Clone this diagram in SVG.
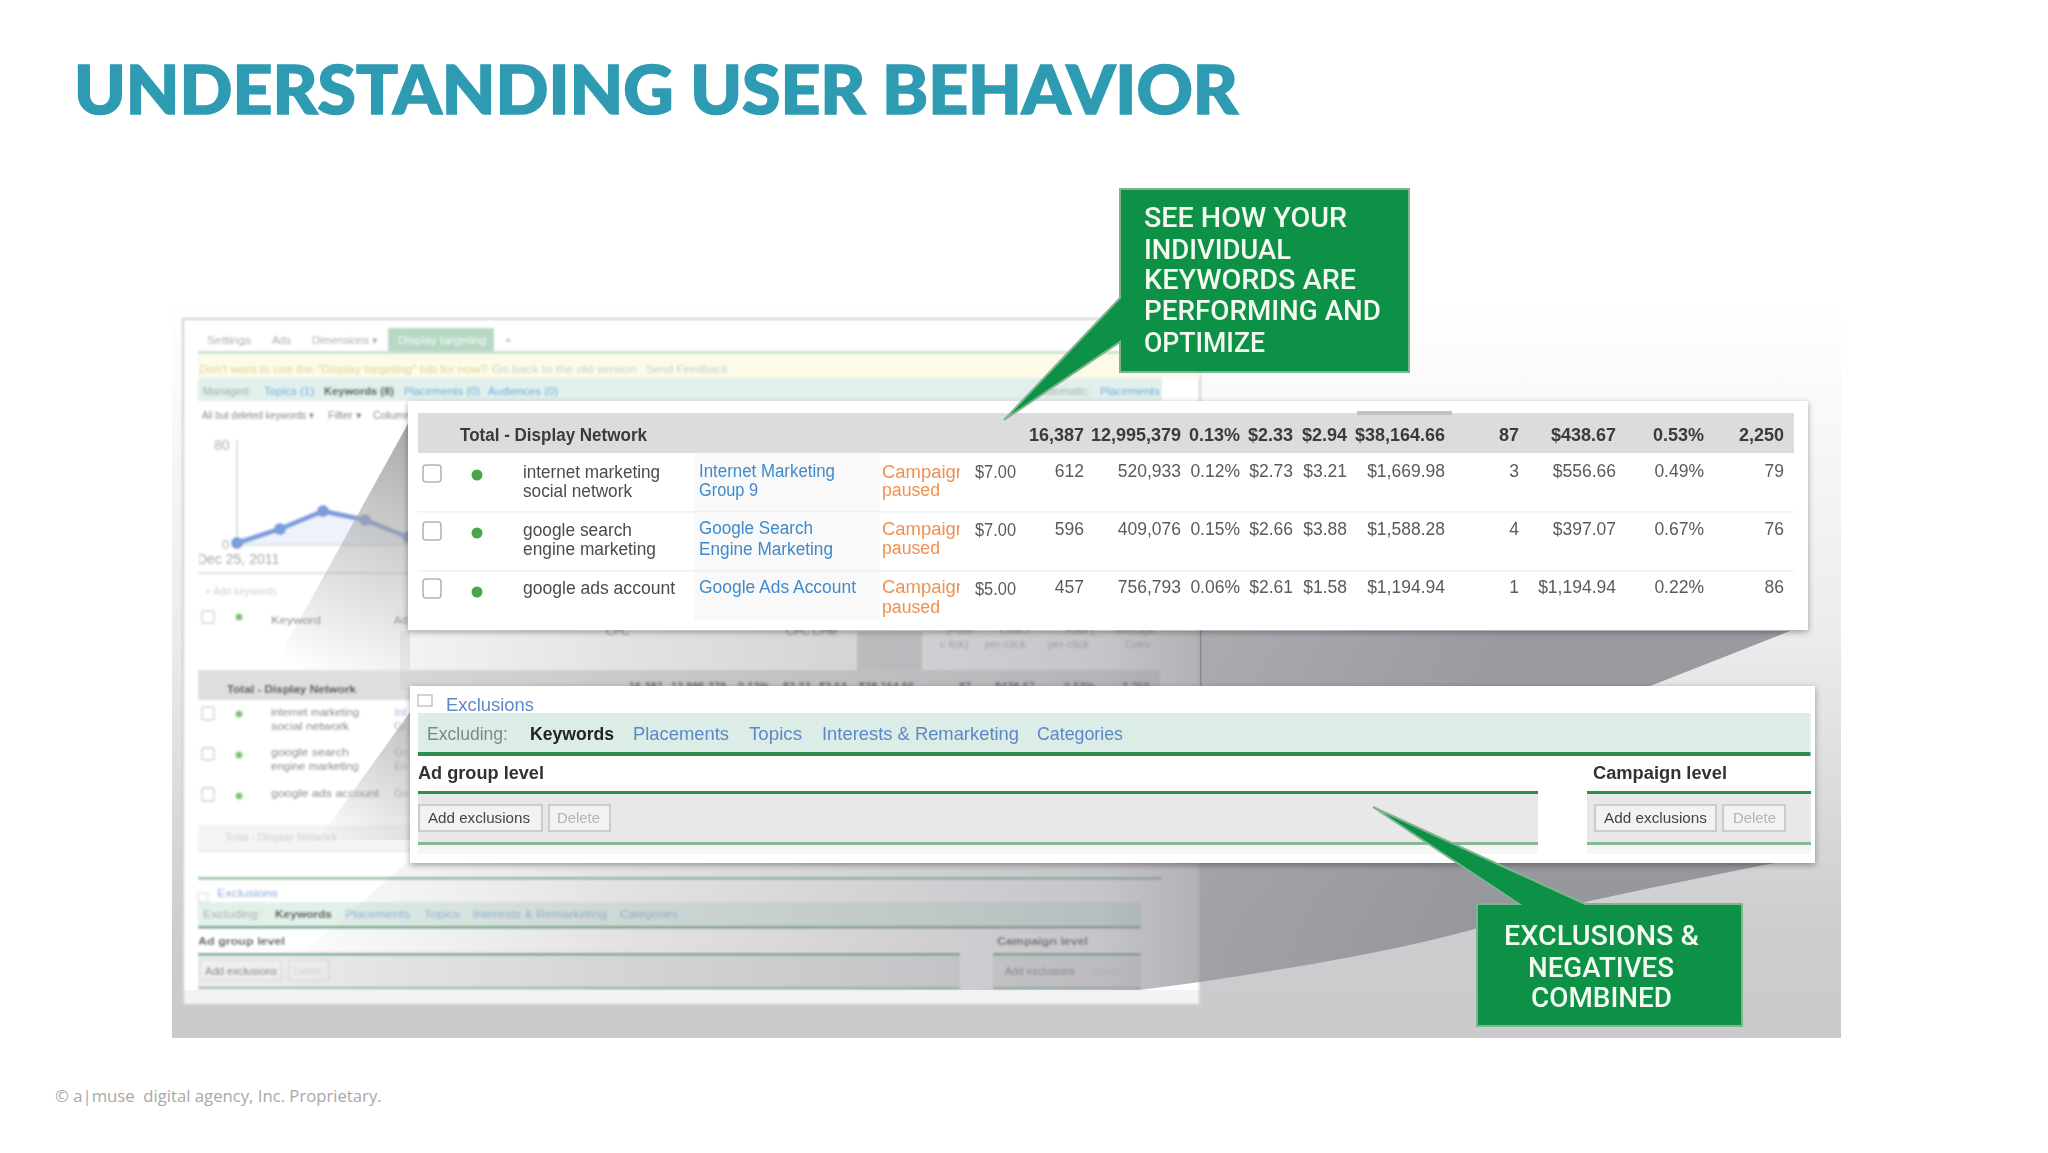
<svg xmlns="http://www.w3.org/2000/svg" width="2048" height="1153" viewBox="0 0 2048 1153">
<style>
text{font-family:"Liberation Sans",Arial,sans-serif}
.title{font-family:Lato,"Liberation Sans",sans-serif;font-weight:900;font-size:66px;fill:#2e9bb3;stroke:#2e9bb3;stroke-width:1.6px}
.foot{font-family:"Open Sans","Noto Sans",sans-serif;font-size:16.7px;fill:#a8a8a8;white-space:pre}
.c{font-family:Roboto,"Liberation Sans",sans-serif;font-weight:500;font-size:27px;fill:#f4faf0}
.hb{font-weight:700;font-size:18px;fill:#3a3a3a}
.n{font-size:17.5px;fill:#5a5a5a}
.k{font-size:18px;fill:#4c4c4c}
.b{font-size:18px;fill:#3f8acb}
.o{font-size:18px;fill:#f09050}
.x{font-size:19px;fill:#5d88c8}
.xg{font-size:19px;fill:#7d8a84}
.xk{font-size:19px;font-weight:700;fill:#222}
.xh{font-size:18px;font-weight:700;fill:#333}
.bt{font-size:15px;fill:#444}
.bd{font-size:15px;fill:#b4b4b4}
.f{font-size:11px;fill:#a6a6a6}
.fb{font-size:11px;fill:#8fb4dc}
.fk{font-size:11px;fill:#444;font-weight:700}
.fl{font-size:11px;fill:#777}
.fc{font-size:11px;fill:#aaa}
.gl{fill:#2f8d50}
.gf{fill:#5fa377}
.gm{fill:#86b993}
.cb{fill:#fff;stroke:#b4b4b4;stroke-width:1.6}
.cbf{fill:#fff;stroke:#cfcfcf;stroke-width:1.4}
.dot{fill:#4aa548}
.fdot{fill:#7cc070}
.btn{fill:#f2f2f2;stroke:#c4c4c4;stroke-width:1.6}
.btf{fill:#efefef;stroke:#d8d8d8;stroke-width:1.2}
.cal{fill:#0a9147;stroke:#7fb48e;stroke-width:2}
</style>
<defs>
<linearGradient id="bg" x1="0" y1="300" x2="0" y2="1040" gradientUnits="userSpaceOnUse"><stop offset="0" stop-color="#fff"/><stop offset=".45" stop-color="#ececec"/><stop offset=".85" stop-color="#cdcdcf"/><stop offset="1" stop-color="#cacacc"/></linearGradient>
<linearGradient id="beam" x1="250" y1="0" x2="1500" y2="0" gradientUnits="userSpaceOnUse"><stop offset="0" stop-color="#8c8c94" stop-opacity="0"/><stop offset=".3" stop-color="#8c8c94" stop-opacity=".25"/><stop offset=".68" stop-color="#8c8c94" stop-opacity=".5"/><stop offset=".76" stop-color="#8c8c94" stop-opacity=".68"/><stop offset="1" stop-color="#8c8c94" stop-opacity=".85"/></linearGradient>
<linearGradient id="w1" x1="410" y1="420" x2="300" y2="670" gradientUnits="userSpaceOnUse"><stop offset="0" stop-color="#a4a4a4" stop-opacity=".95"/><stop offset="1" stop-color="#a4a4a4" stop-opacity="0"/></linearGradient>
<linearGradient id="w2" x1="410" y1="712" x2="320" y2="840" gradientUnits="userSpaceOnUse"><stop offset="0" stop-color="#a4a4a4" stop-opacity=".7"/><stop offset="1" stop-color="#a4a4a4" stop-opacity="0"/></linearGradient>
<filter id="sh" x="-3%" y="-10%" width="106%" height="120%"><feDropShadow dx="0" dy="2" stdDeviation="3" flood-color="#000" flood-opacity=".35"/></filter>
<filter id="bl" x="-2%" y="-2%" width="104%" height="104%"><feGaussianBlur stdDeviation=".7"/></filter>
<filter id="bl2" x="-2%" y="-2%" width="104%" height="104%"><feGaussianBlur stdDeviation="1"/></filter>
<clipPath id="cp"><rect x="860" y="400" width="100" height="230"/></clipPath>
<clipPath id="fr"><rect x="199" y="320" width="1000" height="680"/></clipPath>
</defs>
<rect width="2048" height="1153" fill="#fff"/>

<g id="title"><text class="title" x="74" y="114" textLength="1164" lengthAdjust="spacingAndGlyphs">UNDERSTANDING USER BEHAVIOR</text></g>
<g id="footer"><text class="foot" x="55" y="1102">© a|muse  digital agency, Inc. Proprietary.</text></g>

<g id="backdrop"><rect x="172" y="300" width="1669" height="738" fill="url(#bg)"/></g>

<g id="screenshot" filter="url(#bl2)">
<rect x="183" y="319" width="1017" height="686" fill="#fff" stroke="#cfcfcf" stroke-width="2"/>
<rect x="388" y="328" width="106" height="23" fill="#b6d8c4"/>
<rect x="198" y="351" width="1002" height="3" fill="#c9e2d1"/>
<rect x="198" y="354" width="1002" height="24" fill="#fdfbe8"/>
<rect x="198" y="378" width="964" height="23" fill="#e1f0ed"/>
<rect x="198" y="670" width="962" height="30" fill="#dedede"/>
<rect x="198" y="825" width="962" height="25" fill="#f4f4f4"/>
<rect x="198" y="850" width="962" height="1.5" fill="#e4e4e4"/>
<path d="M237 543L280 529L323 511L365 520L408 537V545H237Z" fill="#eef3fb"/>
<path d="M237 440V545H410M198 573H410" fill="none" stroke="#d8e4dc" stroke-width="2"/>
<path d="M237 543L280 529L323 511L365 520L408 537" fill="none" stroke="#7a9ddc" stroke-width="5"/>
<g fill="#7a9ddc"><circle cx="237" cy="543" r="6"/><circle cx="280" cy="529" r="6"/><circle cx="323" cy="511" r="6"/><circle cx="365" cy="520" r="6"/><circle cx="408" cy="537" r="6"/></g>
<rect x="857" y="632" width="65" height="38" fill="#d8d8d8"/>
<g class="cbf"><rect x="202" y="611" width="12" height="12" rx="2"/><rect x="202" y="707" width="12" height="13" rx="2"/><rect x="202" y="748" width="12" height="12" rx="2"/><rect x="202" y="788" width="12" height="13" rx="2"/></g>
<g class="fdot"><circle cx="239" cy="617" r="3.5"/><circle cx="239" cy="714" r="3.5"/><circle cx="239" cy="755" r="3.5"/><circle cx="239" cy="796" r="3.5"/></g>
<rect x="198" y="877" width="964" height="2.5" class="gm"/>
<rect x="198" y="902" width="943" height="25" fill="#e2f0ea"/>
<rect x="198" y="926" width="943" height="2.5" class="gf"/>
<rect x="198" y="953" width="762" height="2.5" class="gf"/>
<rect x="993" y="953" width="148" height="2.5" class="gf"/>
<rect x="198" y="956" width="762" height="32" fill="#ececec"/>
<rect x="993" y="956" width="148" height="32" fill="#ececec"/>
<rect x="198" y="987" width="762" height="2" class="gm"/>
<rect x="993" y="987" width="148" height="2" class="gm"/>
<rect x="200" y="960" width="81" height="20" class="btf"/><rect x="289" y="960" width="40" height="20" class="btf"/>
<rect x="198" y="893" width="10" height="9" fill="none" stroke="#d8d8d8"/>
<g clip-path="url(#fr)">
<text class="f" x="207" y="344" textLength="44" lengthAdjust="spacingAndGlyphs">Settings</text>
<text class="f" x="272" y="344">Ads</text>
<text class="f" x="312" y="344" textLength="66" lengthAdjust="spacingAndGlyphs">Dimensions ▾</text>
<text class="f" x="398" y="344" style="fill:#f4fbf6" textLength="88" lengthAdjust="spacingAndGlyphs">Display targeting</text>
<text class="f" x="505" y="344">+</text>
<text class="f" x="199" y="373" style="fill:#d8d498" textLength="288" lengthAdjust="spacingAndGlyphs">Don't want to use the "Display targeting" tab for now?</text>
<text class="f" x="492" y="373" style="fill:#bcd0d8" textLength="145" lengthAdjust="spacingAndGlyphs">Go back to the old version</text>
<text class="f" x="646" y="373" style="fill:#bcd0d8" textLength="82" lengthAdjust="spacingAndGlyphs">Send Feedback</text>
<text class="f" x="203" y="395" textLength="48" lengthAdjust="spacingAndGlyphs">Managed:</text>
<text class="fb" x="264" y="395" style="fill:#5ea8dc" textLength="50" lengthAdjust="spacingAndGlyphs">Topics (1)</text>
<text class="fk" x="324" y="395" textLength="70" lengthAdjust="spacingAndGlyphs">Keywords (8)</text>
<text class="fb" x="404" y="395" style="fill:#5ea8dc" textLength="76" lengthAdjust="spacingAndGlyphs">Placements (0)</text>
<text class="fb" x="488" y="395" style="fill:#5ea8dc" textLength="70" lengthAdjust="spacingAndGlyphs">Audiences (0)</text>
<text class="f" x="1090" y="395" text-anchor="end">Automatic:</text>
<text class="fb" x="1100" y="395" style="fill:#5ea8dc" textLength="60" lengthAdjust="spacingAndGlyphs">Placements</text>
<text class="fl" x="202" y="419" textLength="112" lengthAdjust="spacingAndGlyphs">All but deleted keywords ▾</text>
<text class="fl" x="328" y="419">Filter ▾</text>
<text class="fl" x="373" y="419">Columns</text>
<text x="214" y="450" font-size="14" fill="#aaa">80</text>
<text x="222" y="549" font-size="13" fill="#aaa">0</text>
<text x="197" y="564" font-size="14" fill="#999">Dec 25, 2011</text>
<text class="f" x="205" y="595" style="fill:#cfcfcf" textLength="72" lengthAdjust="spacingAndGlyphs">+ Add keywords</text>
<text class="fl" x="271" y="624" textLength="50" lengthAdjust="spacingAndGlyphs">Keyword</text>
<text class="fl" x="394" y="624">Ad</text>
<text class="fl" x="606" y="635">CPC</text>
<text class="fl" x="786" y="635">CPC  CPM</text>
<text class="f" x="946" y="634">(Post-</text><text class="f" x="1000" y="634">Cost /</text><text class="f" x="1065" y="634">Rate (</text><text class="f" x="1115" y="634">average</text>
<text class="f" x="940" y="648">c lick)</text><text class="f" x="985" y="648">per-click</text><text class="f" x="1048" y="648">per-click</text><text class="f" x="1125" y="648">Conv</text>
<text class="fk" x="227" y="693" textLength="129" lengthAdjust="spacingAndGlyphs">Total - Display Network</text>
<text class="fk" x="629" y="690">16,387</text><text class="fk" x="671" y="690">12,995,379</text><text class="fk" x="738" y="690">0.13%</text><text class="fk" x="783" y="690">$2.33</text><text class="fk" x="819" y="690">$3.64</text><text class="fk" x="859" y="690">$38,164.66</text><text class="fk" x="959" y="690">87</text><text class="fk" x="995" y="690">$438.67</text><text class="fk" x="1064" y="690">0.53%</text><text class="fk" x="1122" y="690">2,250</text>
<text class="fl" x="271" y="716" textLength="88" lengthAdjust="spacingAndGlyphs">internet marketing</text>
<text class="fl" x="271" y="730" textLength="78" lengthAdjust="spacingAndGlyphs">social network</text>
<text class="fl" x="271" y="756" textLength="78" lengthAdjust="spacingAndGlyphs">google search</text>
<text class="fl" x="271" y="770" textLength="88" lengthAdjust="spacingAndGlyphs">engine marketing</text>
<text class="fl" x="271" y="797" textLength="108" lengthAdjust="spacingAndGlyphs">google ads account</text>
<text class="fb" x="394" y="716">Int</text><text class="fb" x="394" y="730">Gr</text><text class="fb" x="394" y="756">Go</text><text class="fb" x="394" y="770">En</text><text class="fb" x="394" y="797">Go</text>
<text class="f" x="225" y="841" style="fill:#cfcfcf" textLength="112" lengthAdjust="spacingAndGlyphs">Total - Display Network</text>
<text class="fb" x="217" y="897" style="fill:#7e9fd8" textLength="61" lengthAdjust="spacingAndGlyphs">Exclusions</text>
<text class="fc" x="203" y="918" textLength="58" lengthAdjust="spacingAndGlyphs">Excluding:</text>
<text class="fk" x="275" y="918" textLength="57" lengthAdjust="spacingAndGlyphs">Keywords</text>
<text class="fb" x="345" y="918" textLength="65" lengthAdjust="spacingAndGlyphs">Placements</text>
<text class="fb" x="424" y="918" textLength="36" lengthAdjust="spacingAndGlyphs">Topics</text>
<text class="fb" x="473" y="918" textLength="134" lengthAdjust="spacingAndGlyphs">Interests &amp; Remarketing</text>
<text class="fb" x="620" y="918" textLength="58" lengthAdjust="spacingAndGlyphs">Categories</text>
<text class="fk" x="198" y="945" textLength="87" lengthAdjust="spacingAndGlyphs">Ad group level</text>
<text class="fk" x="997" y="945" textLength="91" lengthAdjust="spacingAndGlyphs">Campaign level</text>
<text class="fl" x="205" y="975" textLength="72" lengthAdjust="spacingAndGlyphs">Add exclusions</text>
<text class="f" x="294" y="975" style="fill:#d4d4d4" textLength="28" lengthAdjust="spacingAndGlyphs">Delete</text>
<text class="fl" x="1005" y="975" textLength="70" lengthAdjust="spacingAndGlyphs">Add exclusions</text>
<text class="f" x="1092" y="975" style="fill:#d4d4d4" textLength="30" lengthAdjust="spacingAndGlyphs">Delete</text>
</g>
</g>

<g id="beams">
<path d="M410 420L272 670H410Z" fill="url(#w1)"/>
<path d="M410 712L318 840H410Z" fill="url(#w2)"/>
<path d="M400 631H1790L1640 690H400Z" fill="url(#beam)"/>
<path d="M410 860H1790L1775 863C1680 882 1585 900 1482 927C1380 955 1290 968 1200 982L1140 990H260L410 860Z" fill="url(#beam)"/>
<rect x="183" y="990" width="1017" height="15" fill="#8c8c94" opacity=".1"/>
<rect x="1200" y="631" width="1.4" height="56" fill="#7e7e84" opacity=".7"/>
</g>

<g id="table-window">
<rect x="408" y="401" width="1400" height="229" fill="#fff" filter="url(#sh)"/>
<g filter="url(#bl)">
<rect x="418" y="413" width="1376" height="40" fill="#dcdcde"/>
<rect x="1357" y="411" width="95" height="4" fill="#c2c2c4"/>
<rect x="694" y="453" width="186" height="167" fill="#f9f9fa"/>
<g fill="#f0f0f0"><rect x="418" y="511" width="1376" height="1.5"/><rect x="418" y="570" width="1376" height="1.5"/></g>
<g class="cb"><rect x="423" y="465" width="18" height="17" rx="3"/><rect x="423" y="522" width="18" height="18" rx="3"/><rect x="423" y="579" width="18" height="19" rx="3"/></g>
<g class="dot"><circle cx="477" cy="475" r="5.5"/><circle cx="477" cy="533" r="5.5"/><circle cx="477" cy="592" r="5.5"/></g>
<text class="hb" x="460" y="441" textLength="187" lengthAdjust="spacingAndGlyphs">Total - Display Network</text>
<text class="k" x="523" y="478" textLength="137" lengthAdjust="spacingAndGlyphs">internet marketing</text>
<text class="k" x="523" y="497" textLength="109" lengthAdjust="spacingAndGlyphs">social network</text>
<text class="k" x="523" y="536" textLength="109" lengthAdjust="spacingAndGlyphs">google search</text>
<text class="k" x="523" y="555" textLength="133" lengthAdjust="spacingAndGlyphs">engine marketing</text>
<text class="k" x="523" y="594" textLength="152" lengthAdjust="spacingAndGlyphs">google ads account</text>
<text class="b" x="699" y="477" textLength="136" lengthAdjust="spacingAndGlyphs">Internet Marketing</text>
<text class="b" x="699" y="496" textLength="59" lengthAdjust="spacingAndGlyphs">Group 9</text>
<text class="b" x="699" y="534" textLength="114" lengthAdjust="spacingAndGlyphs">Google Search</text>
<text class="b" x="699" y="555" textLength="134" lengthAdjust="spacingAndGlyphs">Engine Marketing</text>
<text class="b" x="699" y="593" textLength="157" lengthAdjust="spacingAndGlyphs">Google Ads Account</text>
<g clip-path="url(#cp)">
<text class="o" x="882" y="478" textLength="84" lengthAdjust="spacingAndGlyphs">Campaign</text><text class="o" x="882" y="496" textLength="58" lengthAdjust="spacingAndGlyphs">paused</text>
<text class="o" x="882" y="535" textLength="84" lengthAdjust="spacingAndGlyphs">Campaign</text><text class="o" x="882" y="554" textLength="58" lengthAdjust="spacingAndGlyphs">paused</text>
<text class="o" x="882" y="593" textLength="84" lengthAdjust="spacingAndGlyphs">Campaign</text><text class="o" x="882" y="613" textLength="58" lengthAdjust="spacingAndGlyphs">paused</text>
</g>
<g class="n"><text x="975" y="478" textLength="41" lengthAdjust="spacingAndGlyphs">$7.00</text><text x="975" y="536" textLength="41" lengthAdjust="spacingAndGlyphs">$7.00</text><text x="975" y="595" textLength="41" lengthAdjust="spacingAndGlyphs">$5.00</text></g>
<g class="hb" text-anchor="end">
<text x="1084" y="441">16,387</text><text x="1181" y="441">12,995,379</text><text x="1240" y="441">0.13%</text><text x="1293" y="441">$2.33</text><text x="1347" y="441">$2.94</text><text x="1445" y="441">$38,164.66</text><text x="1519" y="441">87</text><text x="1616" y="441">$438.67</text><text x="1704" y="441">0.53%</text><text x="1784" y="441">2,250</text>
</g>
<g class="n" text-anchor="end">
<text x="1084" y="477">612</text><text x="1181" y="477">520,933</text><text x="1240" y="477">0.12%</text><text x="1293" y="477">$2.73</text><text x="1347" y="477">$3.21</text><text x="1445" y="477">$1,669.98</text><text x="1519" y="477">3</text><text x="1616" y="477">$556.66</text><text x="1704" y="477">0.49%</text><text x="1784" y="477">79</text>
<text x="1084" y="535">596</text><text x="1181" y="535">409,076</text><text x="1240" y="535">0.15%</text><text x="1293" y="535">$2.66</text><text x="1347" y="535">$3.88</text><text x="1445" y="535">$1,588.28</text><text x="1519" y="535">4</text><text x="1616" y="535">$397.07</text><text x="1704" y="535">0.67%</text><text x="1784" y="535">76</text>
<text x="1084" y="593">457</text><text x="1181" y="593">756,793</text><text x="1240" y="593">0.06%</text><text x="1293" y="593">$2.61</text><text x="1347" y="593">$1.58</text><text x="1445" y="593">$1,194.94</text><text x="1519" y="593">1</text><text x="1616" y="593">$1,194.94</text><text x="1704" y="593">0.22%</text><text x="1784" y="593">86</text>
</g>
</g>
</g>

<g id="exclusions-window">
<rect x="410" y="686" width="1405" height="177" fill="#fff" filter="url(#sh)"/>
<g filter="url(#bl)">
<rect x="418" y="713" width="1392.500" height="40" fill="#dcece6"/>
<rect x="418" y="752" width="1392.500" height="4" class="gl"/>
<rect x="418" y="794" width="1120" height="50" fill="#e8e8e8"/>
<rect x="1587" y="794" width="224" height="50" fill="#e8e8e8"/>
<rect x="418" y="845" width="1120" height="9" fill="#f6f6f4"/>
<rect x="1587" y="845" width="224" height="9" fill="#f6f6f4"/>
<rect x="418" y="791" width="1120" height="3" class="gl"/>
<rect x="1587" y="791" width="224" height="3" class="gl"/>
<rect x="418" y="842" width="1120" height="3" class="gm"/>
<rect x="1587" y="842" width="224" height="3" class="gm"/>
<rect x="418" y="695" width="14" height="11" fill="none" stroke="#c4c4c4" stroke-width="1.5"/>
<rect x="419" y="805" width="123" height="26" class="btn"/><rect x="549" y="805" width="61" height="26" class="btn"/>
<rect x="1595" y="805" width="121" height="26" class="btn"/><rect x="1723" y="805" width="62" height="26" class="btn"/>
<text class="x" x="446" y="711" textLength="88" lengthAdjust="spacingAndGlyphs">Exclusions</text>
<text class="xg" x="427" y="740" textLength="81" lengthAdjust="spacingAndGlyphs">Excluding:</text>
<text class="xk" x="530" y="740" textLength="84" lengthAdjust="spacingAndGlyphs">Keywords</text>
<text class="x" x="633" y="740" textLength="96" lengthAdjust="spacingAndGlyphs">Placements</text>
<text class="x" x="749" y="740" textLength="53" lengthAdjust="spacingAndGlyphs">Topics</text>
<text class="x" x="822" y="740" textLength="197" lengthAdjust="spacingAndGlyphs">Interests &amp; Remarketing</text>
<text class="x" x="1037" y="740" textLength="86" lengthAdjust="spacingAndGlyphs">Categories</text>
<text class="xh" x="418" y="779" textLength="126" lengthAdjust="spacingAndGlyphs">Ad group level</text>
<text class="xh" x="1593" y="779" textLength="134" lengthAdjust="spacingAndGlyphs">Campaign level</text>
<text class="bt" x="428" y="823" textLength="102" lengthAdjust="spacingAndGlyphs">Add exclusions</text>
<text class="bd" x="557" y="823" textLength="43" lengthAdjust="spacingAndGlyphs">Delete</text>
<text class="bt" x="1604" y="823" textLength="103" lengthAdjust="spacingAndGlyphs">Add exclusions</text>
<text class="bd" x="1733" y="823" textLength="43" lengthAdjust="spacingAndGlyphs">Delete</text>
</g>
</g>

<g id="callout-keywords" filter="url(#bl)">
<path class="cal" d="M1120 189H1409V372H1120V342L1004 420L1120 298Z"/>
<text class="c" x="1144" y="227" textLength="203" lengthAdjust="spacingAndGlyphs">SEE HOW YOUR</text>
<text class="c" x="1144" y="259" textLength="147" lengthAdjust="spacingAndGlyphs">INDIVIDUAL</text>
<text class="c" x="1144" y="289" textLength="212" lengthAdjust="spacingAndGlyphs">KEYWORDS ARE</text>
<text class="c" x="1144" y="320" textLength="237" lengthAdjust="spacingAndGlyphs">PERFORMING AND</text>
<text class="c" x="1144" y="352" textLength="121" lengthAdjust="spacingAndGlyphs">OPTIMIZE</text>
</g>

<g id="callout-exclusions" filter="url(#bl)">
<path class="cal" d="M1477 904H1519L1373 807L1585 904H1742V1026H1477Z"/>
<text class="c" x="1504" y="945" textLength="195" lengthAdjust="spacingAndGlyphs">EXCLUSIONS &amp;</text>
<text class="c" x="1528" y="977" textLength="146" lengthAdjust="spacingAndGlyphs">NEGATIVES</text>
<text class="c" x="1531" y="1007" textLength="141" lengthAdjust="spacingAndGlyphs">COMBINED</text>
</g>
</svg>
